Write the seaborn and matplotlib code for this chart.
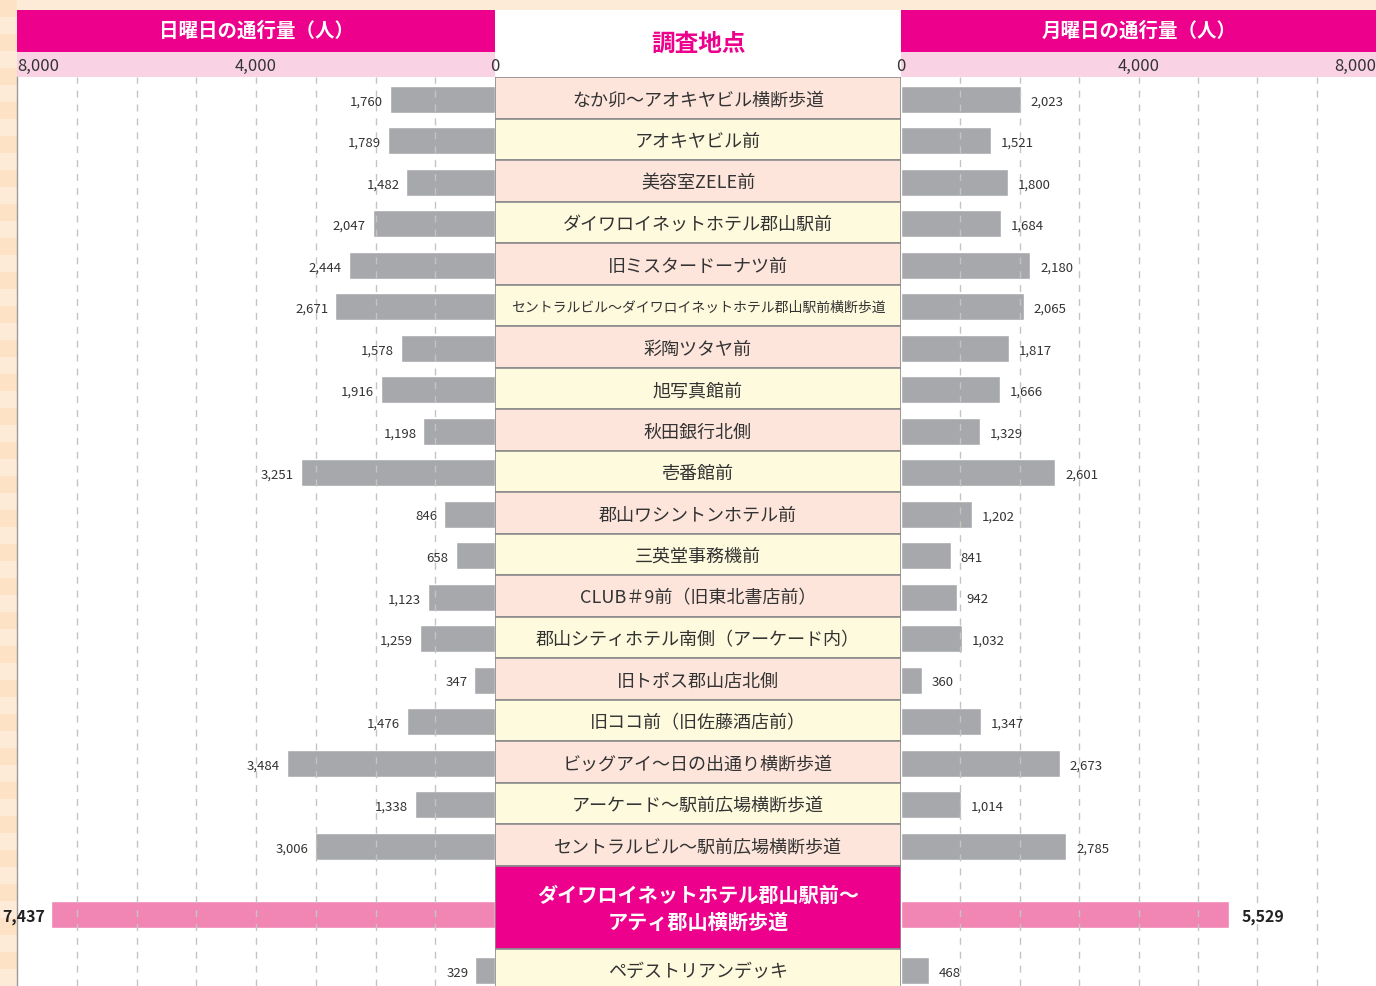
import matplotlib
matplotlib.use("Agg")
import matplotlib.pyplot as plt
import seaborn as sns
import pandas as pd
import numpy as np
from matplotlib.patches import Rectangle
from matplotlib.ticker import FixedLocator

# ---------------- data ----------------
locations = [
    "なか卯～アオキヤビル横断歩道",
    "アオキヤビル前",
    "美容室ZELE前",
    "ダイワロイネットホテル郡山駅前",
    "旧ミスタードーナツ前",
    "セントラルビル～ダイワロイネットホテル郡山駅前横断歩道",
    "彩陶ツタヤ前",
    "旭写真館前",
    "秋田銀行北側",
    "壱番館前",
    "郡山ワシントンホテル前",
    "三英堂事務機前",
    "CLUB＃9前（旧東北書店前）",
    "郡山シティホテル南側（アーケード内）",
    "旧トポス郡山店北側",
    "旧ココ前（旧佐藤酒店前）",
    "ビッグアイ～日の出通り横断歩道",
    "アーケード～駅前広場横断歩道",
    "セントラルビル～駅前広場横断歩道",
    "ダイワロイネットホテル郡山駅前～\nアティ郡山横断歩道",
    "ペデストリアンデッキ",
]
sunday = [1760, 1789, 1482, 2047, 2444, 2671, 1578, 1916, 1198, 3251,
          846, 658, 1123, 1259, 347, 1476, 3484, 1338, 3006, 7437, 329]
monday = [2023, 1521, 1800, 1684, 2180, 2065, 1817, 1666, 1329, 2601,
          1202, 841, 942, 1032, 360, 1347, 2673, 1014, 2785, 5529, 468]
highlight = [False] * 19 + [True] + [False]
left_title = "日曜日の通行量（人）"
right_title = "月曜日の通行量（人）"
center_title = "調査地点"
tick_values = [0, 4000, 8000]
tick_labels = ["0", "4,000", "8,000"]

# ---------------- style ----------------
sns.set_style("white")
plt.rcParams["font.family"] = ["Noto Sans CJK JP", "DejaVu Sans"]

MAGENTA = "#ec008c"
BAND = "#f9d3e4"
PEACH = "#fdebd8"
GRAY = "#a7a8ab"
PINK = "#f186b4"
CELL_A = "#fde5dc"
CELL_B = "#fefadd"
BORDER = "#8c8c8c"
TXT = "#333333"

W, H = 1376, 986
fig = plt.figure(figsize=(W / 100, H / 100), dpi=100, facecolor=PEACH)


def px(x0, y0, x1, y1):
    return [x0 / W, 1 - y1 / H, (x1 - x0) / W, (y1 - y0) / H]


# header decorations (figure level, behind axes)
def frect(x0, y0, x1, y1, color):
    fig.add_artist(Rectangle((x0 / W, 1 - y1 / H), (x1 - x0) / W, (y1 - y0) / H,
                             transform=fig.transFigure, color=color, zorder=-1, lw=0))


# faint stripes on the left margin
for k in range(0, 986, 34):
    frect(0, k, 17, k + 17, "#fde2c6")

frect(17, 10, 495, 52, MAGENTA)
frect(901, 10, 1376, 52, MAGENTA)
frect(17, 52, 495, 77, BAND)
frect(901, 52, 1376, 77, BAND)
frect(495, 10, 901, 77, "white")

# row layout
spans = np.array([2 if h else 1 for h in highlight])
edges = np.concatenate([[0], np.cumsum(spans)])
centers = (edges[:-1] + edges[1:]) / 2
bar_pos = centers + np.where(highlight, 0.19, 0.035)
YMAX = (986 - 77) / 41.5

df = pd.DataFrame({
    "pos": bar_pos,
    "sunday": sunday,
    "monday": monday,
    "kind": np.where(highlight, "hl", "normal"),
})

axL = fig.add_axes(px(17, 77, 495, 986))
axC = fig.add_axes(px(495, 77, 901, 986))
axR = fig.add_axes(px(901, 77, 1376, 986))

palette = {"normal": GRAY, "hl": PINK}
for ax, col in ((axL, "sunday"), (axR, "monday")):
    sns.barplot(data=df, x=col, y="pos", hue="kind", palette=palette,
                orient="h", native_scale=True, dodge=False, width=0.65,
                saturation=1, legend=False, errorbar=None, ax=ax)
    ax.set_facecolor("white")
    ax.set_ylim(YMAX, 0)
    ax.set_xlabel("")
    ax.set_ylabel("")
    ax.set_yticks([])
    ax.xaxis.tick_top()
    ax.set_xticks(tick_values, tick_labels)
    ax.tick_params(axis="x", which="major", length=0, pad=1.5,
                   labelsize=12, labelcolor=TXT)
    ax.xaxis.set_minor_locator(FixedLocator(list(range(1000, 8000, 1000))))
    ax.xaxis.remove_overlapping_locs = False
    ax.tick_params(axis="x", which="minor", length=0)
    ax.grid(False)
    ax.grid(True, which="minor", axis="x", color="#c4c4c4",
            linestyle=(0, (5, 5)), linewidth=1)
    ax.set_axisbelow(False)
    for s in ax.spines.values():
        s.set_visible(False)

axL.set_xlim(8000, 0)
axR.set_xlim(0, 8000)
axL.spines["left"].set_visible(True)
axL.spines["left"].set_color("#9a9a9a")
axL.spines["left"].set_linewidth(1)

for lab in axL.get_xticklabels():
    if lab.get_text() == "8,000":
        lab.set_ha("left")
for lab in axR.get_xticklabels():
    if lab.get_text() == "8,000":
        lab.set_ha("right")

# value labels
for p, v, h in zip(bar_pos, sunday, highlight):
    axL.annotate(f"{v:,}", xy=(v, p), xytext=(-4 if h else -5, -1.8),
                 textcoords="offset points",
                 ha="right", va="center", fontsize=11.5 if h else 9.5,
                 fontweight="bold" if h else "normal", color="#222" if h else TXT,
                 annotation_clip=False)
for p, v, h in zip(bar_pos, monday, highlight):
    axR.annotate(f"{v:,}", xy=(v, p), xytext=(9 if h else 7, -1.8),
                 textcoords="offset points",
                 ha="left", va="center", fontsize=11.5 if h else 9.5,
                 fontweight="bold" if h else "normal", color="#222" if h else TXT,
                 annotation_clip=False)

# centre column cells
cell_colors = [MAGENTA if h else (CELL_A if e % 2 == 0 else CELL_B)
               for h, e in zip(highlight, edges[:-1])]
axC.barh(centers, [1] * len(centers), height=spans, left=0, color=cell_colors,
         edgecolor=BORDER, linewidth=1.2)
axC.set_xlim(0, 1)
axC.set_ylim(YMAX, 0)
axC.axis("off")
for c, name, h in zip(centers, locations, highlight):
    if h:
        axC.annotate(name, xy=(0.5, c), xytext=(0, -1.5), textcoords="offset points",
                     ha="center", va="center", fontsize=14.5,
                     fontweight="bold", color="white", linespacing=1.35)
    else:
        axC.annotate(name, xy=(0.5, c), xytext=(0, -2), textcoords="offset points",
                     ha="center", va="center",
                     fontsize=10 if len(name) > 20 else 13, color=TXT)

# titles
fig.text(256 / W, 1 - 31 / H, left_title, ha="center", va="center",
         fontsize=14, fontweight="bold", color="white")
fig.text(1139 / W, 1 - 31 / H, right_title, ha="center", va="center",
         fontsize=14, fontweight="bold", color="white")
fig.text(698 / W, 1 - 44 / H, center_title, ha="center", va="center",
         fontsize=17, fontweight="bold", color=MAGENTA)

fig.savefig("out.png", dpi=100, facecolor=fig.get_facecolor())
